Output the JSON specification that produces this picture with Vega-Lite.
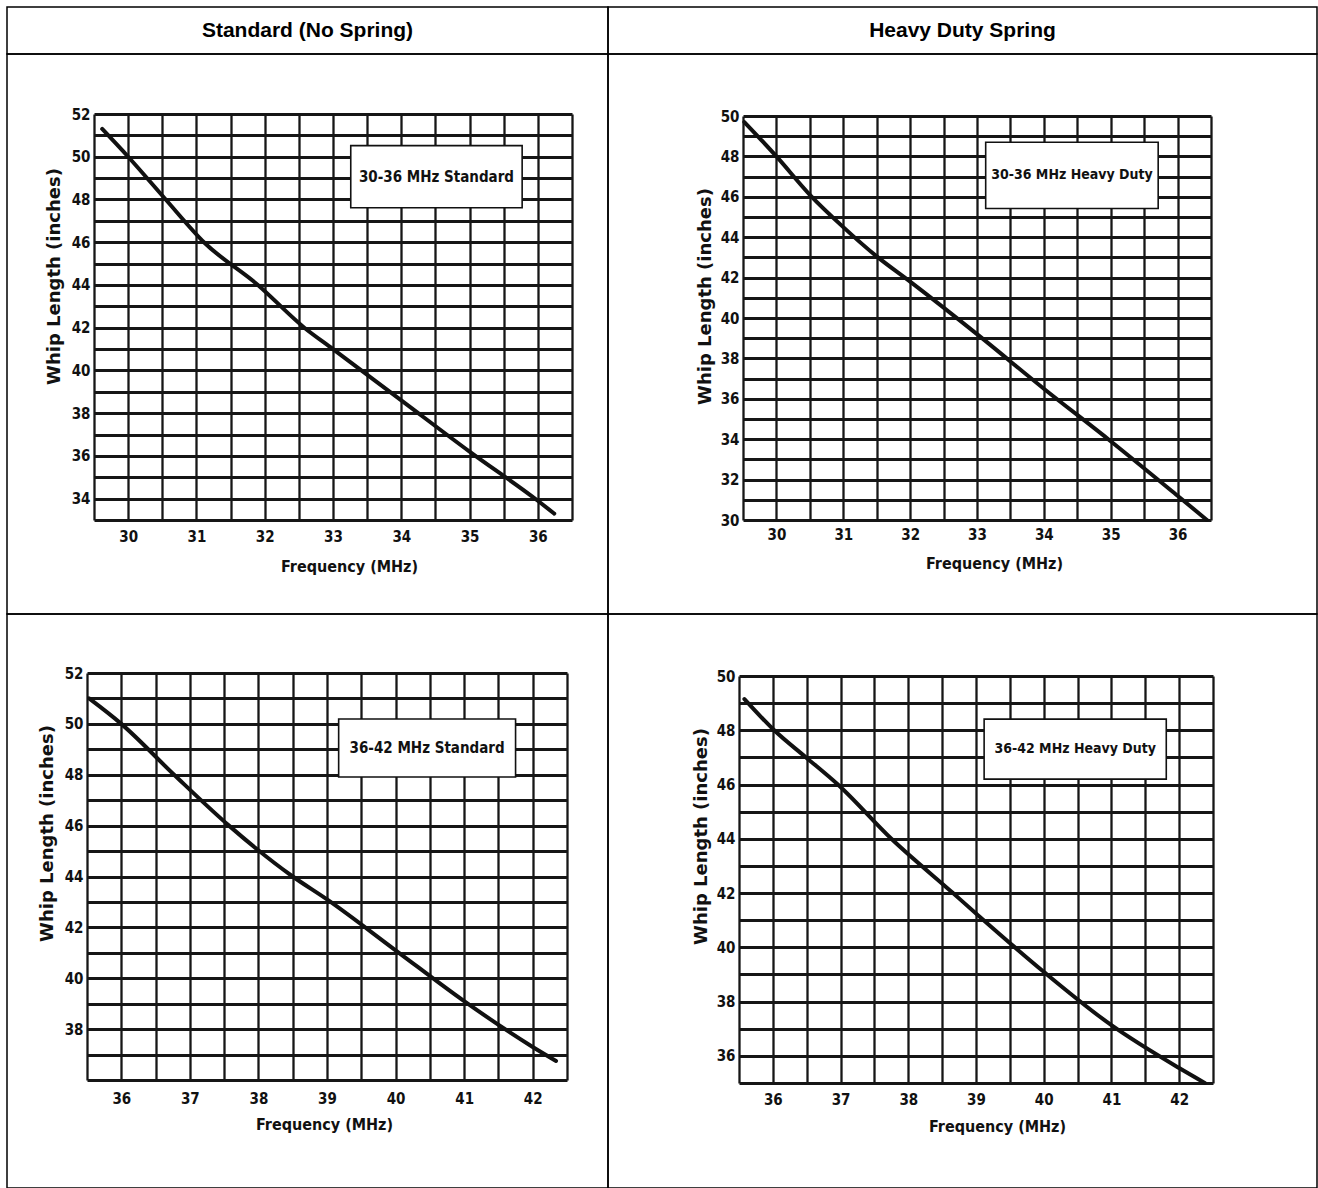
{
  "$schema": "https://vega.github.io/schema/vega-lite/v6.json",
  "padding": {"left": 6, "top": 6, "right": 0, "bottom": 0},
  "background": "white",
  "spacing": 0,
  "bounds": "flush",
  "columns": 2,
  "config": {
    "view": {"stroke": "#000", "strokeWidth": 1.5},
    "concat": {"spacing": 0},
    "axis": {
      "domain": false, "ticks": false, "tickSize": 0, "grid": true, "tickCount": 100,
      "gridColor": "#161616", "labelColor": "#111", "titleColor": "#111",
      "labelFont": "Liberation Sans Narrow, DejaVu Sans Condensed, Liberation Sans",
      "labelFontSize": 15, "labelFontWeight": "bold",
      "labelOverlap": false, "labelFlush": false,
      "titleFontWeight": "bold"
    },
    "axisX": {"gridWidth": 2.3, "titleFont": "Liberation Sans Narrow, DejaVu Sans Condensed, Liberation Sans", "titleFontSize": 16, "labelBaseline": "top", "titleBaseline": "top"},
    "axisY": {"gridWidth": 2.8, "titleFont": "DejaVu Sans", "titleFontSize": 18}
  },
  "datasets": {
    "headers": [
      {"col": "left", "h": "Standard (No Spring)"},
      {"col": "right", "h": "Heavy Duty Spring"}
    ],
    "labels": [
      {"chart": "A", "label": "30-36 MHz Standard"},
      {"chart": "B", "label": "30-36 MHz Heavy Duty"},
      {"chart": "C", "label": "36-42 MHz Standard"},
      {"chart": "D", "label": "36-42 MHz Heavy Duty"}
    ],
    "curves": [
      {"chart": "A", "freq": 29.62, "length": 51.3},
      {"chart": "A", "freq": 30.0, "length": 50.0},
      {"chart": "A", "freq": 30.55, "length": 48.0},
      {"chart": "A", "freq": 31.11, "length": 46.0},
      {"chart": "A", "freq": 31.9, "length": 44.0},
      {"chart": "A", "freq": 32.58, "length": 42.0},
      {"chart": "A", "freq": 33.0, "length": 41.0},
      {"chart": "A", "freq": 34.0, "length": 38.6},
      {"chart": "A", "freq": 35.0, "length": 36.2},
      {"chart": "A", "freq": 36.0, "length": 33.9},
      {"chart": "A", "freq": 36.24, "length": 33.3},
      {"chart": "B", "freq": 29.52, "length": 49.7},
      {"chart": "B", "freq": 30.0, "length": 48.0},
      {"chart": "B", "freq": 30.5, "length": 46.1},
      {"chart": "B", "freq": 31.0, "length": 44.5},
      {"chart": "B", "freq": 31.5, "length": 43.05},
      {"chart": "B", "freq": 32.0, "length": 41.8},
      {"chart": "B", "freq": 33.0, "length": 39.2},
      {"chart": "B", "freq": 34.0, "length": 36.5},
      {"chart": "B", "freq": 35.0, "length": 33.9},
      {"chart": "B", "freq": 36.0, "length": 31.2},
      {"chart": "B", "freq": 36.44, "length": 30.0},
      {"chart": "C", "freq": 35.53, "length": 51.0},
      {"chart": "C", "freq": 36.0, "length": 50.0},
      {"chart": "C", "freq": 36.77, "length": 48.0},
      {"chart": "C", "freq": 37.57, "length": 46.0},
      {"chart": "C", "freq": 38.5, "length": 44.0},
      {"chart": "C", "freq": 39.0, "length": 43.1},
      {"chart": "C", "freq": 40.0, "length": 41.1},
      {"chart": "C", "freq": 41.0, "length": 39.1},
      {"chart": "C", "freq": 42.0, "length": 37.3},
      {"chart": "C", "freq": 42.34, "length": 36.75},
      {"chart": "D", "freq": 35.58, "length": 49.15},
      {"chart": "D", "freq": 36.02, "length": 48.0},
      {"chart": "D", "freq": 36.49, "length": 47.0},
      {"chart": "D", "freq": 36.96, "length": 46.0},
      {"chart": "D", "freq": 37.75, "length": 44.0},
      {"chart": "D", "freq": 38.66, "length": 42.0},
      {"chart": "D", "freq": 39.0, "length": 41.25},
      {"chart": "D", "freq": 40.0, "length": 39.1},
      {"chart": "D", "freq": 41.0, "length": 37.13},
      {"chart": "D", "freq": 42.0, "length": 35.55},
      {"chart": "D", "freq": 42.38, "length": 35.0}
    ]
  },
  "concat": [
    {
      "width": 601, "height": 47,
      "view": {"stroke": "#000", "strokeWidth": 1.5},
      "data": {"name": "headers"},
      "transform": [{"filter": "datum.col === 'left'"}],
      "mark": {"type": "text", "font": "Liberation Sans", "fontSize": 21, "fontWeight": "bold", "color": "#000", "baseline": "middle", "align": "center"},
      "encoding": {"text": {"field": "h"}}
    },
    {
      "width": 709, "height": 47,
      "view": {"stroke": "#000", "strokeWidth": 1.5},
      "data": {"name": "headers"},
      "transform": [{"filter": "datum.col === 'right'"}],
      "mark": {"type": "text", "font": "Liberation Sans", "fontSize": 21, "fontWeight": "bold", "color": "#000", "baseline": "middle", "align": "center"},
      "encoding": {"text": {"field": "h"}}
    },
    {
      "width": 601, "height": 560,
      "layer": [
        {
          "data": {"name": "curves"},
          "transform": [{"filter": "datum.chart === 'A'"}],
          "mark": {"type": "line", "color": "#111", "strokeWidth": 4, "strokeCap": "round", "interpolate": "monotone"},
          "encoding": {
            "x": {"field": "freq", "type": "quantitative",
              "scale": {"domain": [29.5, 36.5], "range": [87, 565], "nice": false, "zero": false},
              "axis": {"orient": "top", "offset": -466, "values": [29.5, 30, 30.5, 31, 31.5, 32, 32.5, 33, 33.5, 34, 34.5, 35, 35.5, 36, 36.5],
                "labelExpr": "datum.value % 1 === 0 ? '' + datum.value : ''", "labelPadding": -9,
                "title": "Frequency (MHz)", "titleX": 342, "titleY": 38}},
            "y": {"field": "length", "type": "quantitative",
              "scale": {"domain": [33, 52], "range": [466, 60], "nice": false, "zero": false},
              "axis": {"orient": "left", "offset": -87, "values": [33, 34, 35, 36, 37, 38, 39, 40, 41, 42, 43, 44, 45, 46, 47, 48, 49, 50, 51, 52],
                "labelExpr": "datum.value % 2 === 0 ? '' + datum.value : ''", "labelPadding": 4,
                "title": "Whip Length (inches)", "titlePadding": 8, "titleY": 222}}
          }
        },
        {
          "data": {"name": "labels"},
          "transform": [{"filter": "datum.chart === 'A'"}],
          "mark": {"type": "rect", "fill": "white", "stroke": "#111", "strokeWidth": 1.6},
          "encoding": {
            "x": {"datum": 33.26, "type": "quantitative"},
            "x2": {"datum": 35.77},
            "y": {"datum": 50.52, "type": "quantitative"},
            "y2": {"datum": 47.61}
          }
        },
        {
          "data": {"name": "labels"},
          "transform": [{"filter": "datum.chart === 'A'"}],
          "mark": {"type": "text", "font": "Liberation Sans Narrow, DejaVu Sans Condensed, Liberation Sans", "fontSize": 15, "fontWeight": "bold", "color": "#111"},
          "encoding": {
            "x": {"datum": 34.515, "type": "quantitative"},
            "y": {"datum": 49.07, "type": "quantitative"},
            "text": {"field": "label"}
          }
        }
      ]
    },
    {
      "width": 709, "height": 560,
      "layer": [
        {
          "data": {"name": "curves"},
          "transform": [{"filter": "datum.chart === 'B'"}],
          "mark": {"type": "line", "color": "#111", "strokeWidth": 4, "strokeCap": "round", "interpolate": "monotone"},
          "encoding": {
            "x": {"field": "freq", "type": "quantitative",
              "scale": {"domain": [29.5, 36.5], "range": [135, 603], "nice": false, "zero": false},
              "axis": {"orient": "top", "offset": -466, "values": [29.5, 30, 30.5, 31, 31.5, 32, 32.5, 33, 33.5, 34, 34.5, 35, 35.5, 36, 36.5],
                "labelExpr": "datum.value % 1 === 0 ? '' + datum.value : ''", "labelPadding": -7,
                "title": "Frequency (MHz)", "titleX": 386, "titleY": 35}},
            "y": {"field": "length", "type": "quantitative",
              "scale": {"domain": [30, 50], "range": [466, 62], "nice": false, "zero": false},
              "axis": {"orient": "left", "offset": -135, "values": [30, 31, 32, 33, 34, 35, 36, 37, 38, 39, 40, 41, 42, 43, 44, 45, 46, 47, 48, 49, 50],
                "labelExpr": "datum.value % 2 === 0 ? '' + datum.value : ''", "labelPadding": 4,
                "title": "Whip Length (inches)", "titlePadding": 6, "titleY": 242}}
          }
        },
        {
          "data": {"name": "labels"},
          "transform": [{"filter": "datum.chart === 'B'"}],
          "mark": {"type": "rect", "fill": "white", "stroke": "#111", "strokeWidth": 1.6},
          "encoding": {
            "x": {"datum": 33.13, "type": "quantitative"},
            "x2": {"datum": 35.71},
            "y": {"datum": 48.7, "type": "quantitative"},
            "y2": {"datum": 45.42}
          }
        },
        {
          "data": {"name": "labels"},
          "transform": [{"filter": "datum.chart === 'B'"}],
          "mark": {"type": "text", "font": "Liberation Sans Narrow, DejaVu Sans Condensed, Liberation Sans", "fontSize": 14, "fontWeight": "bold", "color": "#111"},
          "encoding": {
            "x": {"datum": 34.42, "type": "quantitative"},
            "y": {"datum": 47.06, "type": "quantitative"},
            "text": {"field": "label"}
          }
        }
      ]
    },
    {
      "width": 601, "height": 574,
      "layer": [
        {
          "data": {"name": "curves"},
          "transform": [{"filter": "datum.chart === 'C'"}],
          "mark": {"type": "line", "color": "#111", "strokeWidth": 4, "strokeCap": "round", "interpolate": "monotone"},
          "encoding": {
            "x": {"field": "freq", "type": "quantitative",
              "scale": {"domain": [35.5, 42.5], "range": [80, 560], "nice": false, "zero": false},
              "axis": {"orient": "top", "offset": -466, "values": [35.5, 36, 36.5, 37, 37.5, 38, 38.5, 39, 39.5, 40, 40.5, 41, 41.5, 42, 42.5],
                "labelExpr": "datum.value % 1 === 0 ? '' + datum.value : ''", "labelPadding": -11,
                "title": "Frequency (MHz)", "titleX": 317, "titleY": 36}},
            "y": {"field": "length", "type": "quantitative",
              "scale": {"domain": [36, 52], "range": [466, 59], "nice": false, "zero": false},
              "axis": {"orient": "left", "offset": -80, "values": [36, 37, 38, 39, 40, 41, 42, 43, 44, 45, 46, 47, 48, 49, 50, 51, 52],
                "labelExpr": "datum.value % 2 === 0 && datum.value > 36 ? '' + datum.value : ''", "labelPadding": 4,
                "title": "Whip Length (inches)", "titlePadding": 8, "titleY": 219}}
          }
        },
        {
          "data": {"name": "labels"},
          "transform": [{"filter": "datum.chart === 'C'"}],
          "mark": {"type": "rect", "fill": "white", "stroke": "#111", "strokeWidth": 1.6},
          "encoding": {
            "x": {"datum": 39.17, "type": "quantitative"},
            "x2": {"datum": 41.75},
            "y": {"datum": 50.19, "type": "quantitative"},
            "y2": {"datum": 47.91}
          }
        },
        {
          "data": {"name": "labels"},
          "transform": [{"filter": "datum.chart === 'C'"}],
          "mark": {"type": "text", "font": "Liberation Sans Narrow, DejaVu Sans Condensed, Liberation Sans", "fontSize": 15, "fontWeight": "bold", "color": "#111"},
          "encoding": {
            "x": {"datum": 40.46, "type": "quantitative"},
            "y": {"datum": 49.05, "type": "quantitative"},
            "text": {"field": "label"}
          }
        }
      ]
    },
    {
      "width": 709, "height": 574,
      "layer": [
        {
          "data": {"name": "curves"},
          "transform": [{"filter": "datum.chart === 'D'"}],
          "mark": {"type": "line", "color": "#111", "strokeWidth": 4, "strokeCap": "round", "interpolate": "monotone"},
          "encoding": {
            "x": {"field": "freq", "type": "quantitative",
              "scale": {"domain": [35.5, 42.5], "range": [131, 605], "nice": false, "zero": false},
              "axis": {"orient": "top", "offset": -469, "values": [35.5, 36, 36.5, 37, 37.5, 38, 38.5, 39, 39.5, 40, 40.5, 41, 41.5, 42, 42.5],
                "labelExpr": "datum.value % 1 === 0 ? '' + datum.value : ''", "labelPadding": -9,
                "title": "Frequency (MHz)", "titleX": 389, "titleY": 35}},
            "y": {"field": "length", "type": "quantitative",
              "scale": {"domain": [35, 50], "range": [469, 62], "nice": false, "zero": false},
              "axis": {"orient": "left", "offset": -131, "values": [35, 36, 37, 38, 39, 40, 41, 42, 43, 44, 45, 46, 47, 48, 49, 50],
                "labelExpr": "datum.value % 2 === 0 ? '' + datum.value : ''", "labelPadding": 4,
                "title": "Whip Length (inches)", "titlePadding": 6, "titleY": 222}}
          }
        },
        {
          "data": {"name": "labels"},
          "transform": [{"filter": "datum.chart === 'D'"}],
          "mark": {"type": "rect", "fill": "white", "stroke": "#111", "strokeWidth": 1.6},
          "encoding": {
            "x": {"datum": 39.12, "type": "quantitative"},
            "x2": {"datum": 41.81},
            "y": {"datum": 48.41, "type": "quantitative"},
            "y2": {"datum": 46.2}
          }
        },
        {
          "data": {"name": "labels"},
          "transform": [{"filter": "datum.chart === 'D'"}],
          "mark": {"type": "text", "font": "Liberation Sans Narrow, DejaVu Sans Condensed, Liberation Sans", "fontSize": 14, "fontWeight": "bold", "color": "#111"},
          "encoding": {
            "x": {"datum": 40.465, "type": "quantitative"},
            "y": {"datum": 47.3, "type": "quantitative"},
            "text": {"field": "label"}
          }
        }
      ]
    }
  ]
}
